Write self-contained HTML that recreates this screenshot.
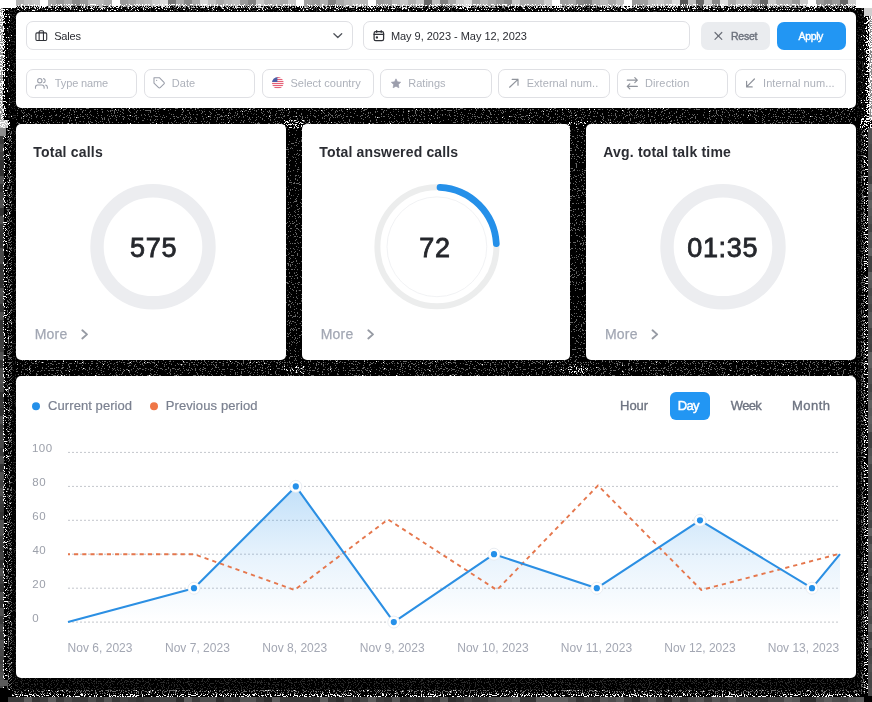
<!DOCTYPE html>
<html><head><meta charset="utf-8"><title>Dashboard</title>
<style>
html,body{margin:0;padding:0;}
body{width:872px;height:702px;background:#000;position:relative;overflow:hidden;font-family:"Liberation Sans",sans-serif;}
.card{position:absolute;background:#fff;border-radius:5px;}
.t{position:absolute;white-space:nowrap;line-height:1;}
#txt{position:absolute;left:0;top:0;width:872px;height:702px;will-change:transform;}
.inp{position:absolute;box-sizing:border-box;border:1px solid #dfe0e4;border-radius:7px;background:#fff;}
.btn{position:absolute;border-radius:6px;}
svg{position:absolute;left:0;top:0;overflow:visible;}
</style></head><body>
<svg width="872" height="702" viewBox="0 0 872 702" shape-rendering="crispEdges"><defs><filter id="nf0" x="0" y="0" width="100%" height="100%" color-interpolation-filters="sRGB"><feTurbulence type="fractalNoise" baseFrequency="0.85" numOctaves="1" seed="2"/><feColorMatrix type="matrix" values="0 0 0 0 1.0 0 0 0 0 1.0 0 0 0 0 1.0 60 0 0 0 -32.00"/></filter><filter id="nf1" x="0" y="0" width="100%" height="100%" color-interpolation-filters="sRGB"><feTurbulence type="fractalNoise" baseFrequency="0.85" numOctaves="1" seed="3"/><feColorMatrix type="matrix" values="0 0 0 0 0 0 0 0 0 0 0 0 0 0 0 60 0 0 0 -29.50"/></filter><filter id="nf2" x="0" y="0" width="100%" height="100%" color-interpolation-filters="sRGB"><feTurbulence type="fractalNoise" baseFrequency="0.85" numOctaves="1" seed="40"/><feColorMatrix type="matrix" values="0 0 0 0 1.0 0 0 0 0 1.0 0 0 0 0 1.0 60 0 0 0 -36.33"/></filter><filter id="nf3" x="0" y="0" width="100%" height="100%" color-interpolation-filters="sRGB"><feTurbulence type="fractalNoise" baseFrequency="0.85" numOctaves="1" seed="4"/><feColorMatrix type="matrix" values="0 0 0 0 1.0 0 0 0 0 1.0 0 0 0 0 1.0 60 0 0 0 -35.77"/></filter><filter id="nf4" x="0" y="0" width="100%" height="100%" color-interpolation-filters="sRGB"><feTurbulence type="fractalNoise" baseFrequency="0.85" numOctaves="1" seed="37"/><feColorMatrix type="matrix" values="0 0 0 0 0.16 0 0 0 0 0.16 0 0 0 0 0.16 60 0 0 0 -33.92"/></filter><filter id="nf5" x="0" y="0" width="100%" height="100%" color-interpolation-filters="sRGB"><feTurbulence type="fractalNoise" baseFrequency="0.85" numOctaves="1" seed="5"/><feColorMatrix type="matrix" values="0 0 0 0 1.0 0 0 0 0 1.0 0 0 0 0 1.0 60 0 0 0 -30.33"/></filter><filter id="nf6" x="0" y="0" width="100%" height="100%" color-interpolation-filters="sRGB"><feTurbulence type="fractalNoise" baseFrequency="0.85" numOctaves="1" seed="6"/><feColorMatrix type="matrix" values="0 0 0 0 1.0 0 0 0 0 1.0 0 0 0 0 1.0 60 0 0 0 -30.33"/></filter><filter id="nf7" x="0" y="0" width="100%" height="100%" color-interpolation-filters="sRGB"><feTurbulence type="fractalNoise" baseFrequency="0.85" numOctaves="1" seed="7"/><feColorMatrix type="matrix" values="0 0 0 0 1.0 0 0 0 0 1.0 0 0 0 0 1.0 60 0 0 0 -37.00"/></filter><filter id="nf8" x="0" y="0" width="100%" height="100%" color-interpolation-filters="sRGB"><feTurbulence type="fractalNoise" baseFrequency="0.85" numOctaves="1" seed="8"/><feColorMatrix type="matrix" values="0 0 0 0 0.16 0 0 0 0 0.16 0 0 0 0 0.16 60 0 0 0 -33.92"/></filter><filter id="nf9" x="0" y="0" width="100%" height="100%" color-interpolation-filters="sRGB"><feTurbulence type="fractalNoise" baseFrequency="0.85" numOctaves="1" seed="41"/><feColorMatrix type="matrix" values="0 0 0 0 1.0 0 0 0 0 1.0 0 0 0 0 1.0 60 0 0 0 -42.00"/></filter><filter id="nf10" x="0" y="0" width="100%" height="100%" color-interpolation-filters="sRGB"><feTurbulence type="fractalNoise" baseFrequency="0.85" numOctaves="1" seed="9"/><feColorMatrix type="matrix" values="0 0 0 0 1.0 0 0 0 0 1.0 0 0 0 0 1.0 60 0 0 0 -32.00"/></filter><filter id="nf11" x="0" y="0" width="100%" height="100%" color-interpolation-filters="sRGB"><feTurbulence type="fractalNoise" baseFrequency="0.85" numOctaves="1" seed="10"/><feColorMatrix type="matrix" values="0 0 0 0 1.0 0 0 0 0 1.0 0 0 0 0 1.0 60 0 0 0 -35.08"/></filter><filter id="nf12" x="0" y="0" width="100%" height="100%" color-interpolation-filters="sRGB"><feTurbulence type="fractalNoise" baseFrequency="0.85" numOctaves="1" seed="11"/><feColorMatrix type="matrix" values="0 0 0 0 0.4 0 0 0 0 0.4 0 0 0 0 0.4 60 0 0 0 -32.83"/></filter><filter id="nf13" x="0" y="0" width="100%" height="100%" color-interpolation-filters="sRGB"><feTurbulence type="fractalNoise" baseFrequency="0.85" numOctaves="1" seed="35"/><feColorMatrix type="matrix" values="0 0 0 0 1.0 0 0 0 0 1.0 0 0 0 0 1.0 60 0 0 0 -41.40"/></filter><filter id="nf14" x="0" y="0" width="100%" height="100%" color-interpolation-filters="sRGB"><feTurbulence type="fractalNoise" baseFrequency="0.85" numOctaves="1" seed="12"/><feColorMatrix type="matrix" values="0 0 0 0 0.16 0 0 0 0 0.16 0 0 0 0 0.16 60 0 0 0 -35.08"/></filter><filter id="nf15" x="0" y="0" width="100%" height="100%" color-interpolation-filters="sRGB"><feTurbulence type="fractalNoise" baseFrequency="0.85" numOctaves="1" seed="13"/><feColorMatrix type="matrix" values="0 0 0 0 0.16 0 0 0 0 0.16 0 0 0 0 0.16 60 0 0 0 -33.92"/></filter><filter id="nf16" x="0" y="0" width="100%" height="100%" color-interpolation-filters="sRGB"><feTurbulence type="fractalNoise" baseFrequency="0.85" numOctaves="1" seed="38"/><feColorMatrix type="matrix" values="0 0 0 0 1.0 0 0 0 0 1.0 0 0 0 0 1.0 60 0 0 0 -42.00"/></filter><filter id="nf17" x="0" y="0" width="100%" height="100%" color-interpolation-filters="sRGB"><feTurbulence type="fractalNoise" baseFrequency="0.85" numOctaves="1" seed="42"/><feColorMatrix type="matrix" values="0 0 0 0 1.0 0 0 0 0 1.0 0 0 0 0 1.0 60 0 0 0 -36.33"/></filter><filter id="nf18" x="0" y="0" width="100%" height="100%" color-interpolation-filters="sRGB"><feTurbulence type="fractalNoise" baseFrequency="0.85" numOctaves="1" seed="14"/><feColorMatrix type="matrix" values="0 0 0 0 1.0 0 0 0 0 1.0 0 0 0 0 1.0 60 0 0 0 -30.33"/></filter><filter id="nf19" x="0" y="0" width="100%" height="100%" color-interpolation-filters="sRGB"><feTurbulence type="fractalNoise" baseFrequency="0.85" numOctaves="1" seed="15"/><feColorMatrix type="matrix" values="0 0 0 0 1.0 0 0 0 0 1.0 0 0 0 0 1.0 60 0 0 0 -30.33"/></filter><filter id="nf20" x="0" y="0" width="100%" height="100%" color-interpolation-filters="sRGB"><feTurbulence type="fractalNoise" baseFrequency="0.85" numOctaves="1" seed="16"/><feColorMatrix type="matrix" values="0 0 0 0 1.0 0 0 0 0 1.0 0 0 0 0 1.0 60 0 0 0 -32.00"/></filter><filter id="nf21" x="0" y="0" width="100%" height="100%" color-interpolation-filters="sRGB"><feTurbulence type="fractalNoise" baseFrequency="0.85" numOctaves="1" seed="17"/><feColorMatrix type="matrix" values="0 0 0 0 0.16 0 0 0 0 0.16 0 0 0 0 0.16 60 0 0 0 -33.92"/></filter><filter id="nf22" x="0" y="0" width="100%" height="100%" color-interpolation-filters="sRGB"><feTurbulence type="fractalNoise" baseFrequency="0.85" numOctaves="1" seed="36"/><feColorMatrix type="matrix" values="0 0 0 0 0.42 0 0 0 0 0.42 0 0 0 0 0.42 60 0 0 0 -32.83"/></filter><filter id="nf23" x="0" y="0" width="100%" height="100%" color-interpolation-filters="sRGB"><feTurbulence type="fractalNoise" baseFrequency="0.85" numOctaves="1" seed="18"/><feColorMatrix type="matrix" values="0 0 0 0 1.0 0 0 0 0 1.0 0 0 0 0 1.0 60 0 0 0 -33.92"/></filter><filter id="nf24" x="0" y="0" width="100%" height="100%" color-interpolation-filters="sRGB"><feTurbulence type="fractalNoise" baseFrequency="0.85" numOctaves="1" seed="19"/><feColorMatrix type="matrix" values="0 0 0 0 1.0 0 0 0 0 1.0 0 0 0 0 1.0 60 0 0 0 -32.83"/></filter><filter id="nf25" x="0" y="0" width="100%" height="100%" color-interpolation-filters="sRGB"><feTurbulence type="fractalNoise" baseFrequency="0.85" numOctaves="1" seed="20"/><feColorMatrix type="matrix" values="0 0 0 0 0.42 0 0 0 0 0.42 0 0 0 0 0.42 60 0 0 0 -32.83"/></filter><filter id="nf26" x="0" y="0" width="100%" height="100%" color-interpolation-filters="sRGB"><feTurbulence type="fractalNoise" baseFrequency="0.85" numOctaves="1" seed="34"/><feColorMatrix type="matrix" values="0 0 0 0 1.0 0 0 0 0 1.0 0 0 0 0 1.0 60 0 0 0 -41.40"/></filter><filter id="nf27" x="0" y="0" width="100%" height="100%" color-interpolation-filters="sRGB"><feTurbulence type="fractalNoise" baseFrequency="0.85" numOctaves="1" seed="21"/><feColorMatrix type="matrix" values="0 0 0 0 0.16 0 0 0 0 0.16 0 0 0 0 0.16 60 0 0 0 -33.92"/></filter><filter id="nf28" x="0" y="0" width="100%" height="100%" color-interpolation-filters="sRGB"><feTurbulence type="fractalNoise" baseFrequency="0.85" numOctaves="1" seed="22"/><feColorMatrix type="matrix" values="0 0 0 0 0.4 0 0 0 0 0.4 0 0 0 0 0.4 60 0 0 0 -36.67"/></filter><filter id="nf29" x="0" y="0" width="100%" height="100%" color-interpolation-filters="sRGB"><feTurbulence type="fractalNoise" baseFrequency="0.85" numOctaves="1" seed="23"/><feColorMatrix type="matrix" values="0 0 0 0 0.4 0 0 0 0 0.4 0 0 0 0 0.4 60 0 0 0 -36.67"/></filter><filter id="nf30" x="0" y="0" width="100%" height="100%" color-interpolation-filters="sRGB"><feTurbulence type="fractalNoise" baseFrequency="0.85" numOctaves="1" seed="24"/><feColorMatrix type="matrix" values="0 0 0 0 0.4 0 0 0 0 0.4 0 0 0 0 0.4 60 0 0 0 -37.33"/></filter><filter id="nf31" x="0" y="0" width="100%" height="100%" color-interpolation-filters="sRGB"><feTurbulence type="fractalNoise" baseFrequency="0.85" numOctaves="1" seed="25"/><feColorMatrix type="matrix" values="0 0 0 0 0.4 0 0 0 0 0.4 0 0 0 0 0.4 60 0 0 0 -37.33"/></filter><filter id="nf32" x="0" y="0" width="100%" height="100%" color-interpolation-filters="sRGB"><feTurbulence type="fractalNoise" baseFrequency="0.85" numOctaves="1" seed="32"/><feColorMatrix type="matrix" values="0 0 0 0 1.0 0 0 0 0 1.0 0 0 0 0 1.0 60 0 0 0 -44.40"/></filter><filter id="nf33" x="0" y="0" width="100%" height="100%" color-interpolation-filters="sRGB"><feTurbulence type="fractalNoise" baseFrequency="0.85" numOctaves="1" seed="33"/><feColorMatrix type="matrix" values="0 0 0 0 1.0 0 0 0 0 1.0 0 0 0 0 1.0 60 0 0 0 -44.40"/></filter><filter id="nf34" x="0" y="0" width="100%" height="100%" color-interpolation-filters="sRGB"><feTurbulence type="fractalNoise" baseFrequency="0.85" numOctaves="1" seed="26"/><feColorMatrix type="matrix" values="0 0 0 0 1.0 0 0 0 0 1.0 0 0 0 0 1.0 60 0 0 0 -33.92"/></filter><filter id="nf35" x="0" y="0" width="100%" height="100%" color-interpolation-filters="sRGB"><feTurbulence type="fractalNoise" baseFrequency="0.85" numOctaves="1" seed="27"/><feColorMatrix type="matrix" values="0 0 0 0 1.0 0 0 0 0 1.0 0 0 0 0 1.0 60 0 0 0 -37.33"/></filter><filter id="nf36" x="0" y="0" width="100%" height="100%" color-interpolation-filters="sRGB"><feTurbulence type="fractalNoise" baseFrequency="0.85" numOctaves="1" seed="28"/><feColorMatrix type="matrix" values="0 0 0 0 1.0 0 0 0 0 1.0 0 0 0 0 1.0 60 0 0 0 -38.00"/></filter><filter id="nf37" x="0" y="0" width="100%" height="100%" color-interpolation-filters="sRGB"><feTurbulence type="fractalNoise" baseFrequency="0.85" numOctaves="1" seed="29"/><feColorMatrix type="matrix" values="0 0 0 0 1.0 0 0 0 0 1.0 0 0 0 0 1.0 60 0 0 0 -35.08"/></filter></defs>
<rect x="0" y="0" width="16" height="8" fill="#fff"/>
<rect x="856" y="0" width="16" height="8" fill="#fff"/>
<rect x="16" y="0" width="8" height="8" fill="#b0b0b0"/>
<rect x="24" y="0" width="8" height="8" fill="#c0c0c0"/>
<rect x="32" y="0" width="8" height="8" fill="#c8c8c8"/>
<rect x="40" y="0" width="8" height="8" fill="#ffffff"/>
<rect x="48" y="0" width="8" height="8" fill="#a8a8a8"/>
<rect x="56" y="0" width="8" height="8" fill="#999999"/>
<rect x="64" y="0" width="8" height="8" fill="#aaaaaa"/>
<rect x="72" y="0" width="8" height="8" fill="#8a8a8a"/>
<rect x="80" y="0" width="8" height="8" fill="#999999"/>
<rect x="88" y="0" width="8" height="8" fill="#b8b8b8"/>
<rect x="96" y="0" width="8" height="8" fill="#b8b8b8"/>
<rect x="104" y="0" width="8" height="8" fill="#aaaaaa"/>
<rect x="112" y="0" width="8" height="8" fill="#ffffff"/>
<rect x="120" y="0" width="8" height="8" fill="#999999"/>
<rect x="128" y="0" width="8" height="8" fill="#a5a5a5"/>
<rect x="136" y="0" width="8" height="8" fill="#b5b5b5"/>
<rect x="144" y="0" width="8" height="8" fill="#bbbbbb"/>
<rect x="152" y="0" width="8" height="8" fill="#cccccc"/>
<rect x="160" y="0" width="8" height="8" fill="#dddddd"/>
<rect x="168" y="0" width="8" height="8" fill="#777777"/>
<rect x="176" y="0" width="8" height="8" fill="#aaaaaa"/>
<rect x="184" y="0" width="8" height="8" fill="#888888"/>
<rect x="192" y="0" width="8" height="8" fill="#aaaaaa"/>
<rect x="200" y="0" width="8" height="8" fill="#d8d8d8"/>
<rect x="208" y="0" width="8" height="8" fill="#c0c0c0"/>
<rect x="216" y="0" width="8" height="8" fill="#a8a8a8"/>
<rect x="224" y="0" width="8" height="8" fill="#b8b8b8"/>
<rect x="232" y="0" width="8" height="8" fill="#c0c0c0"/>
<rect x="240" y="0" width="8" height="8" fill="#999999"/>
<rect x="248" y="0" width="8" height="8" fill="#808080"/>
<rect x="256" y="0" width="8" height="8" fill="#c8c8c8"/>
<rect x="264" y="0" width="8" height="8" fill="#b0b0b0"/>
<rect x="272" y="0" width="8" height="8" fill="#b8b8b8"/>
<rect x="280" y="0" width="8" height="8" fill="#a8a8a8"/>
<rect x="288" y="0" width="8" height="8" fill="#c8c8c8"/>
<rect x="296" y="0" width="8" height="8" fill="#ffffff"/>
<rect x="304" y="0" width="8" height="8" fill="#a0a0a0"/>
<rect x="312" y="0" width="8" height="8" fill="#999999"/>
<rect x="320" y="0" width="8" height="8" fill="#b0b0b0"/>
<rect x="328" y="0" width="8" height="8" fill="#808080"/>
<rect x="336" y="0" width="8" height="8" fill="#a8a8a8"/>
<rect x="344" y="0" width="8" height="8" fill="#b8b8b8"/>
<rect x="352" y="0" width="8" height="8" fill="#c0c0c0"/>
<rect x="360" y="0" width="8" height="8" fill="#b8b8b8"/>
<rect x="368" y="0" width="8" height="8" fill="#ffffff"/>
<rect x="376" y="0" width="8" height="8" fill="#999999"/>
<rect x="384" y="0" width="8" height="8" fill="#a0a0a0"/>
<rect x="392" y="0" width="8" height="8" fill="#b8b8b8"/>
<rect x="400" y="0" width="8" height="8" fill="#c8c8c8"/>
<rect x="408" y="0" width="8" height="8" fill="#b0b0b0"/>
<rect x="416" y="0" width="8" height="8" fill="#c8c8c8"/>
<rect x="424" y="0" width="8" height="8" fill="#666666"/>
<rect x="432" y="0" width="8" height="8" fill="#c0c0c0"/>
<rect x="440" y="0" width="8" height="8" fill="#808080"/>
<rect x="448" y="0" width="8" height="8" fill="#aaaaaa"/>
<rect x="456" y="0" width="8" height="8" fill="#d0d0d0"/>
<rect x="464" y="0" width="8" height="8" fill="#dddddd"/>
<rect x="472" y="0" width="8" height="8" fill="#a0a0a0"/>
<rect x="480" y="0" width="8" height="8" fill="#b8b8b8"/>
<rect x="488" y="0" width="8" height="8" fill="#aaaaaa"/>
<rect x="496" y="0" width="8" height="8" fill="#999999"/>
<rect x="504" y="0" width="8" height="8" fill="#888888"/>
<rect x="512" y="0" width="8" height="8" fill="#cccccc"/>
<rect x="520" y="0" width="8" height="8" fill="#aaaaaa"/>
<rect x="528" y="0" width="8" height="8" fill="#aaaaaa"/>
<rect x="536" y="0" width="8" height="8" fill="#b0b0b0"/>
<rect x="544" y="0" width="8" height="8" fill="#cccccc"/>
<rect x="552" y="0" width="8" height="8" fill="#ffffff"/>
<rect x="560" y="0" width="8" height="8" fill="#a0a0a0"/>
<rect x="568" y="0" width="8" height="8" fill="#aaaaaa"/>
<rect x="576" y="0" width="8" height="8" fill="#888888"/>
<rect x="584" y="0" width="8" height="8" fill="#808080"/>
<rect x="592" y="0" width="8" height="8" fill="#aaaaaa"/>
<rect x="600" y="0" width="8" height="8" fill="#bbbbbb"/>
<rect x="608" y="0" width="8" height="8" fill="#a8a8a8"/>
<rect x="616" y="0" width="8" height="8" fill="#c0c0c0"/>
<rect x="624" y="0" width="8" height="8" fill="#ffffff"/>
<rect x="632" y="0" width="8" height="8" fill="#999999"/>
<rect x="640" y="0" width="8" height="8" fill="#a0a0a0"/>
<rect x="648" y="0" width="8" height="8" fill="#c0c0c0"/>
<rect x="656" y="0" width="8" height="8" fill="#c8c8c8"/>
<rect x="664" y="0" width="8" height="8" fill="#bbbbbb"/>
<rect x="672" y="0" width="8" height="8" fill="#dddddd"/>
<rect x="680" y="0" width="8" height="8" fill="#555555"/>
<rect x="688" y="0" width="8" height="8" fill="#c0c0c0"/>
<rect x="696" y="0" width="8" height="8" fill="#666666"/>
<rect x="704" y="0" width="8" height="8" fill="#cccccc"/>
<rect x="712" y="0" width="8" height="8" fill="#888888"/>
<rect x="720" y="0" width="8" height="8" fill="#dddddd"/>
<rect x="728" y="0" width="8" height="8" fill="#aaaaaa"/>
<rect x="736" y="0" width="8" height="8" fill="#c0c0c0"/>
<rect x="744" y="0" width="8" height="8" fill="#c0c0c0"/>
<rect x="752" y="0" width="8" height="8" fill="#999999"/>
<rect x="760" y="0" width="8" height="8" fill="#666666"/>
<rect x="768" y="0" width="8" height="8" fill="#cccccc"/>
<rect x="776" y="0" width="8" height="8" fill="#b0b0b0"/>
<rect x="784" y="0" width="8" height="8" fill="#b0b0b0"/>
<rect x="792" y="0" width="8" height="8" fill="#999999"/>
<rect x="800" y="0" width="8" height="8" fill="#cccccc"/>
<rect x="808" y="0" width="8" height="8" fill="#ffffff"/>
<rect x="816" y="0" width="8" height="8" fill="#999999"/>
<rect x="824" y="0" width="8" height="8" fill="#888888"/>
<rect x="832" y="0" width="8" height="8" fill="#999999"/>
<rect x="840" y="0" width="8" height="8" fill="#666666"/>
<rect x="848" y="0" width="8" height="8" fill="#cccccc"/>
<rect x="16" y="4" width="840" height="2" filter="url(#nf0)"/>
<rect x="16" y="6" width="840" height="2" filter="url(#nf1)"/>
<rect x="16" y="6" width="840" height="2" filter="url(#nf2)"/>
<rect x="16" y="8" width="840" height="3" filter="url(#nf3)"/>
<rect x="16" y="8" width="840" height="4" filter="url(#nf4)"/>
<rect x="0" y="8" width="3" height="112" fill="#909090"/>
<rect x="0" y="8" width="3" height="112" filter="url(#nf5)"/>
<rect x="3" y="8" width="2" height="112" filter="url(#nf6)"/>
<rect x="5" y="8" width="3" height="112" filter="url(#nf7)"/>
<rect x="8" y="8" width="8" height="112" filter="url(#nf8)"/>
<rect x="8" y="8" width="4" height="112" filter="url(#nf9)"/>
<rect x="0" y="120" width="8" height="8" fill="#c4c4c4"/>
<rect x="0" y="120" width="10" height="8" filter="url(#nf10)"/>
<rect x="0" y="128" width="4" height="8" fill="#404040"/>
<rect x="0" y="136" width="4" height="8" fill="#383838"/>
<rect x="0" y="144" width="4" height="8" fill="#484848"/>
<rect x="0" y="152" width="4" height="8" fill="#3c3c3c"/>
<rect x="0" y="160" width="4" height="8" fill="#303030"/>
<rect x="0" y="168" width="4" height="8" fill="#303030"/>
<rect x="0" y="176" width="4" height="8" fill="#505050"/>
<rect x="0" y="184" width="4" height="8" fill="#303030"/>
<rect x="0" y="192" width="4" height="8" fill="#404040"/>
<rect x="0" y="200" width="4" height="8" fill="#505050"/>
<rect x="0" y="208" width="4" height="8" fill="#303030"/>
<rect x="0" y="216" width="4" height="8" fill="#505050"/>
<rect x="0" y="224" width="4" height="8" fill="#383838"/>
<rect x="0" y="232" width="4" height="8" fill="#303030"/>
<rect x="0" y="240" width="4" height="8" fill="#303030"/>
<rect x="0" y="248" width="4" height="8" fill="#484848"/>
<rect x="0" y="256" width="4" height="8" fill="#484848"/>
<rect x="0" y="264" width="4" height="8" fill="#303030"/>
<rect x="0" y="272" width="4" height="8" fill="#383838"/>
<rect x="0" y="280" width="4" height="8" fill="#303030"/>
<rect x="0" y="288" width="4" height="8" fill="#505050"/>
<rect x="0" y="296" width="4" height="8" fill="#484848"/>
<rect x="0" y="304" width="4" height="8" fill="#303030"/>
<rect x="0" y="312" width="4" height="8" fill="#505050"/>
<rect x="0" y="320" width="4" height="8" fill="#303030"/>
<rect x="0" y="328" width="4" height="8" fill="#383838"/>
<rect x="0" y="336" width="4" height="8" fill="#3c3c3c"/>
<rect x="0" y="344" width="4" height="8" fill="#3c3c3c"/>
<rect x="0" y="352" width="4" height="8" fill="#505050"/>
<rect x="0" y="360" width="4" height="8" fill="#303030"/>
<rect x="0" y="368" width="4" height="8" fill="#505050"/>
<rect x="0" y="376" width="4" height="8" fill="#505050"/>
<rect x="0" y="384" width="4" height="8" fill="#484848"/>
<rect x="0" y="392" width="4" height="8" fill="#303030"/>
<rect x="0" y="400" width="4" height="8" fill="#383838"/>
<rect x="0" y="408" width="4" height="8" fill="#303030"/>
<rect x="0" y="416" width="4" height="8" fill="#505050"/>
<rect x="0" y="424" width="4" height="8" fill="#383838"/>
<rect x="0" y="432" width="4" height="8" fill="#404040"/>
<rect x="0" y="440" width="4" height="8" fill="#484848"/>
<rect x="0" y="448" width="4" height="8" fill="#383838"/>
<rect x="0" y="456" width="4" height="8" fill="#505050"/>
<rect x="0" y="464" width="4" height="8" fill="#303030"/>
<rect x="0" y="472" width="4" height="8" fill="#505050"/>
<rect x="0" y="480" width="4" height="8" fill="#404040"/>
<rect x="0" y="488" width="4" height="8" fill="#505050"/>
<rect x="0" y="496" width="4" height="8" fill="#3c3c3c"/>
<rect x="0" y="504" width="4" height="8" fill="#383838"/>
<rect x="0" y="512" width="4" height="8" fill="#303030"/>
<rect x="0" y="520" width="4" height="8" fill="#505050"/>
<rect x="0" y="528" width="4" height="8" fill="#505050"/>
<rect x="0" y="536" width="4" height="8" fill="#3c3c3c"/>
<rect x="0" y="544" width="4" height="8" fill="#383838"/>
<rect x="0" y="552" width="4" height="8" fill="#404040"/>
<rect x="0" y="560" width="4" height="8" fill="#303030"/>
<rect x="0" y="568" width="4" height="8" fill="#505050"/>
<rect x="0" y="576" width="4" height="8" fill="#3c3c3c"/>
<rect x="0" y="584" width="4" height="8" fill="#303030"/>
<rect x="0" y="592" width="4" height="8" fill="#505050"/>
<rect x="0" y="600" width="4" height="8" fill="#303030"/>
<rect x="0" y="608" width="4" height="8" fill="#505050"/>
<rect x="0" y="616" width="4" height="8" fill="#383838"/>
<rect x="0" y="624" width="4" height="8" fill="#484848"/>
<rect x="0" y="632" width="4" height="8" fill="#3c3c3c"/>
<rect x="0" y="640" width="4" height="8" fill="#505050"/>
<rect x="0" y="648" width="4" height="8" fill="#484848"/>
<rect x="0" y="656" width="4" height="8" fill="#404040"/>
<rect x="0" y="664" width="4" height="8" fill="#484848"/>
<rect x="0" y="672" width="4" height="8" fill="#505050"/>
<rect x="0" y="680" width="4" height="8" fill="#484848"/>
<rect x="3" y="136" width="4" height="554" filter="url(#nf11)"/>
<rect x="0" y="128" width="6" height="8" fill="#8c8c8c"/>
<rect x="7" y="128" width="5" height="562" filter="url(#nf12)"/>
<rect x="7" y="128" width="5" height="562" filter="url(#nf13)"/>
<rect x="12" y="128" width="4" height="562" filter="url(#nf14)"/>
<rect x="0" y="680" width="8" height="6" fill="#5a5a5a"/>
<rect x="857" y="8" width="8" height="112" filter="url(#nf15)"/>
<rect x="860" y="8" width="4" height="112" filter="url(#nf16)"/>
<rect x="864" y="8" width="2" height="112" filter="url(#nf17)"/>
<rect x="866" y="8" width="3" height="112" filter="url(#nf18)"/>
<rect x="869" y="8" width="3" height="112" fill="#888888"/>
<rect x="869" y="8" width="3" height="112" filter="url(#nf19)"/>
<rect x="864" y="8" width="8" height="8" fill="#cfcfcf"/>
<rect x="860" y="118" width="12" height="10" filter="url(#nf20)"/>
<rect x="868" y="128" width="4" height="8" fill="#505050"/>
<rect x="868" y="136" width="4" height="8" fill="#505050"/>
<rect x="868" y="144" width="4" height="8" fill="#484848"/>
<rect x="868" y="152" width="4" height="8" fill="#484848"/>
<rect x="868" y="160" width="4" height="8" fill="#444444"/>
<rect x="868" y="168" width="4" height="8" fill="#484848"/>
<rect x="868" y="176" width="4" height="8" fill="#404040"/>
<rect x="868" y="184" width="4" height="8" fill="#606060"/>
<rect x="868" y="192" width="4" height="8" fill="#505050"/>
<rect x="868" y="200" width="4" height="8" fill="#606060"/>
<rect x="868" y="208" width="4" height="8" fill="#585858"/>
<rect x="868" y="216" width="4" height="8" fill="#505050"/>
<rect x="868" y="224" width="4" height="8" fill="#444444"/>
<rect x="868" y="232" width="4" height="8" fill="#585858"/>
<rect x="868" y="240" width="4" height="8" fill="#505050"/>
<rect x="868" y="248" width="4" height="8" fill="#606060"/>
<rect x="868" y="256" width="4" height="8" fill="#404040"/>
<rect x="868" y="264" width="4" height="8" fill="#404040"/>
<rect x="868" y="272" width="4" height="8" fill="#606060"/>
<rect x="868" y="280" width="4" height="8" fill="#585858"/>
<rect x="868" y="288" width="4" height="8" fill="#484848"/>
<rect x="868" y="296" width="4" height="8" fill="#505050"/>
<rect x="868" y="304" width="4" height="8" fill="#484848"/>
<rect x="868" y="312" width="4" height="8" fill="#585858"/>
<rect x="868" y="320" width="4" height="8" fill="#585858"/>
<rect x="868" y="328" width="4" height="8" fill="#404040"/>
<rect x="868" y="336" width="4" height="8" fill="#444444"/>
<rect x="868" y="344" width="4" height="8" fill="#404040"/>
<rect x="868" y="352" width="4" height="8" fill="#606060"/>
<rect x="868" y="360" width="4" height="8" fill="#606060"/>
<rect x="868" y="368" width="4" height="8" fill="#505050"/>
<rect x="868" y="376" width="4" height="8" fill="#505050"/>
<rect x="868" y="384" width="4" height="8" fill="#444444"/>
<rect x="868" y="392" width="4" height="8" fill="#505050"/>
<rect x="868" y="400" width="4" height="8" fill="#606060"/>
<rect x="868" y="408" width="4" height="8" fill="#585858"/>
<rect x="868" y="416" width="4" height="8" fill="#606060"/>
<rect x="868" y="424" width="4" height="8" fill="#585858"/>
<rect x="868" y="432" width="4" height="8" fill="#404040"/>
<rect x="868" y="440" width="4" height="8" fill="#404040"/>
<rect x="868" y="448" width="4" height="8" fill="#505050"/>
<rect x="868" y="456" width="4" height="8" fill="#585858"/>
<rect x="868" y="464" width="4" height="8" fill="#444444"/>
<rect x="868" y="472" width="4" height="8" fill="#444444"/>
<rect x="868" y="480" width="4" height="8" fill="#404040"/>
<rect x="868" y="488" width="4" height="8" fill="#404040"/>
<rect x="868" y="496" width="4" height="8" fill="#444444"/>
<rect x="868" y="504" width="4" height="8" fill="#444444"/>
<rect x="868" y="512" width="4" height="8" fill="#505050"/>
<rect x="868" y="520" width="4" height="8" fill="#444444"/>
<rect x="868" y="528" width="4" height="8" fill="#606060"/>
<rect x="868" y="536" width="4" height="8" fill="#444444"/>
<rect x="868" y="544" width="4" height="8" fill="#585858"/>
<rect x="868" y="552" width="4" height="8" fill="#505050"/>
<rect x="868" y="560" width="4" height="8" fill="#444444"/>
<rect x="868" y="568" width="4" height="8" fill="#585858"/>
<rect x="868" y="576" width="4" height="8" fill="#444444"/>
<rect x="868" y="584" width="4" height="8" fill="#505050"/>
<rect x="868" y="592" width="4" height="8" fill="#404040"/>
<rect x="868" y="600" width="4" height="8" fill="#585858"/>
<rect x="868" y="608" width="4" height="8" fill="#505050"/>
<rect x="868" y="616" width="4" height="8" fill="#484848"/>
<rect x="868" y="624" width="4" height="8" fill="#606060"/>
<rect x="868" y="632" width="4" height="8" fill="#404040"/>
<rect x="868" y="640" width="4" height="8" fill="#585858"/>
<rect x="868" y="648" width="4" height="8" fill="#404040"/>
<rect x="868" y="656" width="4" height="8" fill="#484848"/>
<rect x="868" y="664" width="4" height="8" fill="#505050"/>
<rect x="868" y="672" width="4" height="8" fill="#484848"/>
<rect x="868" y="680" width="4" height="8" fill="#444444"/>
<rect x="868" y="688" width="4" height="8" fill="#484848"/>
<rect x="857" y="128" width="5" height="566" filter="url(#nf21)"/>
<rect x="861" y="128" width="4" height="566" filter="url(#nf22)"/>
<rect x="864" y="128" width="4" height="566" filter="url(#nf23)"/>
<rect x="8" y="697" width="8" height="5" fill="#383838"/>
<rect x="16" y="697" width="8" height="5" fill="#383838"/>
<rect x="24" y="697" width="8" height="5" fill="#5c5c5c"/>
<rect x="32" y="697" width="8" height="5" fill="#343434"/>
<rect x="40" y="697" width="8" height="5" fill="#3c3c3c"/>
<rect x="48" y="697" width="8" height="5" fill="#5c5c5c"/>
<rect x="56" y="697" width="8" height="5" fill="#383838"/>
<rect x="64" y="697" width="8" height="5" fill="#4c4c4c"/>
<rect x="72" y="697" width="8" height="5" fill="#3c3c3c"/>
<rect x="80" y="697" width="8" height="5" fill="#383838"/>
<rect x="88" y="697" width="8" height="5" fill="#4c4c4c"/>
<rect x="96" y="697" width="8" height="5" fill="#383838"/>
<rect x="104" y="697" width="8" height="5" fill="#545454"/>
<rect x="112" y="697" width="8" height="5" fill="#383838"/>
<rect x="120" y="697" width="8" height="5" fill="#444444"/>
<rect x="128" y="697" width="8" height="5" fill="#3c3c3c"/>
<rect x="136" y="697" width="8" height="5" fill="#343434"/>
<rect x="144" y="697" width="8" height="5" fill="#3c3c3c"/>
<rect x="152" y="697" width="8" height="5" fill="#3c3c3c"/>
<rect x="160" y="697" width="8" height="5" fill="#444444"/>
<rect x="168" y="697" width="8" height="5" fill="#444444"/>
<rect x="176" y="697" width="8" height="5" fill="#2c2c2c"/>
<rect x="184" y="697" width="8" height="5" fill="#5c5c5c"/>
<rect x="192" y="697" width="8" height="5" fill="#3c3c3c"/>
<rect x="200" y="697" width="8" height="5" fill="#4c4c4c"/>
<rect x="208" y="697" width="8" height="5" fill="#4c4c4c"/>
<rect x="216" y="697" width="8" height="5" fill="#2c2c2c"/>
<rect x="224" y="697" width="8" height="5" fill="#3c3c3c"/>
<rect x="232" y="697" width="8" height="5" fill="#383838"/>
<rect x="240" y="697" width="8" height="5" fill="#545454"/>
<rect x="248" y="697" width="8" height="5" fill="#545454"/>
<rect x="256" y="697" width="8" height="5" fill="#3c3c3c"/>
<rect x="264" y="697" width="8" height="5" fill="#2c2c2c"/>
<rect x="272" y="697" width="8" height="5" fill="#5c5c5c"/>
<rect x="280" y="697" width="8" height="5" fill="#383838"/>
<rect x="288" y="697" width="8" height="5" fill="#383838"/>
<rect x="296" y="697" width="8" height="5" fill="#383838"/>
<rect x="304" y="697" width="8" height="5" fill="#383838"/>
<rect x="312" y="697" width="8" height="5" fill="#343434"/>
<rect x="320" y="697" width="8" height="5" fill="#5c5c5c"/>
<rect x="328" y="697" width="8" height="5" fill="#383838"/>
<rect x="336" y="697" width="8" height="5" fill="#2c2c2c"/>
<rect x="344" y="697" width="8" height="5" fill="#444444"/>
<rect x="352" y="697" width="8" height="5" fill="#343434"/>
<rect x="360" y="697" width="8" height="5" fill="#444444"/>
<rect x="368" y="697" width="8" height="5" fill="#5c5c5c"/>
<rect x="376" y="697" width="8" height="5" fill="#3c3c3c"/>
<rect x="384" y="697" width="8" height="5" fill="#343434"/>
<rect x="392" y="697" width="8" height="5" fill="#545454"/>
<rect x="400" y="697" width="8" height="5" fill="#2c2c2c"/>
<rect x="408" y="697" width="8" height="5" fill="#343434"/>
<rect x="416" y="697" width="8" height="5" fill="#2c2c2c"/>
<rect x="424" y="697" width="8" height="5" fill="#3c3c3c"/>
<rect x="432" y="697" width="8" height="5" fill="#343434"/>
<rect x="440" y="697" width="8" height="5" fill="#545454"/>
<rect x="448" y="697" width="8" height="5" fill="#2c2c2c"/>
<rect x="456" y="697" width="8" height="5" fill="#343434"/>
<rect x="464" y="697" width="8" height="5" fill="#444444"/>
<rect x="472" y="697" width="8" height="5" fill="#383838"/>
<rect x="480" y="697" width="8" height="5" fill="#3c3c3c"/>
<rect x="488" y="697" width="8" height="5" fill="#4c4c4c"/>
<rect x="496" y="697" width="8" height="5" fill="#545454"/>
<rect x="504" y="697" width="8" height="5" fill="#545454"/>
<rect x="512" y="697" width="8" height="5" fill="#5c5c5c"/>
<rect x="520" y="697" width="8" height="5" fill="#343434"/>
<rect x="528" y="697" width="8" height="5" fill="#343434"/>
<rect x="536" y="697" width="8" height="5" fill="#5c5c5c"/>
<rect x="544" y="697" width="8" height="5" fill="#5c5c5c"/>
<rect x="552" y="697" width="8" height="5" fill="#5c5c5c"/>
<rect x="560" y="697" width="8" height="5" fill="#5c5c5c"/>
<rect x="568" y="697" width="8" height="5" fill="#4c4c4c"/>
<rect x="576" y="697" width="8" height="5" fill="#343434"/>
<rect x="584" y="697" width="8" height="5" fill="#3c3c3c"/>
<rect x="592" y="697" width="8" height="5" fill="#343434"/>
<rect x="600" y="697" width="8" height="5" fill="#545454"/>
<rect x="608" y="697" width="8" height="5" fill="#4c4c4c"/>
<rect x="616" y="697" width="8" height="5" fill="#5c5c5c"/>
<rect x="624" y="697" width="8" height="5" fill="#3c3c3c"/>
<rect x="632" y="697" width="8" height="5" fill="#2c2c2c"/>
<rect x="640" y="697" width="8" height="5" fill="#444444"/>
<rect x="648" y="697" width="8" height="5" fill="#545454"/>
<rect x="656" y="697" width="8" height="5" fill="#3c3c3c"/>
<rect x="664" y="697" width="8" height="5" fill="#2c2c2c"/>
<rect x="672" y="697" width="8" height="5" fill="#4c4c4c"/>
<rect x="680" y="697" width="8" height="5" fill="#343434"/>
<rect x="688" y="697" width="8" height="5" fill="#4c4c4c"/>
<rect x="696" y="697" width="8" height="5" fill="#545454"/>
<rect x="704" y="697" width="8" height="5" fill="#3c3c3c"/>
<rect x="712" y="697" width="8" height="5" fill="#545454"/>
<rect x="720" y="697" width="8" height="5" fill="#444444"/>
<rect x="728" y="697" width="8" height="5" fill="#545454"/>
<rect x="736" y="697" width="8" height="5" fill="#444444"/>
<rect x="744" y="697" width="8" height="5" fill="#444444"/>
<rect x="752" y="697" width="8" height="5" fill="#444444"/>
<rect x="760" y="697" width="8" height="5" fill="#383838"/>
<rect x="768" y="697" width="8" height="5" fill="#444444"/>
<rect x="776" y="697" width="8" height="5" fill="#444444"/>
<rect x="784" y="697" width="8" height="5" fill="#5c5c5c"/>
<rect x="792" y="697" width="8" height="5" fill="#545454"/>
<rect x="800" y="697" width="8" height="5" fill="#2c2c2c"/>
<rect x="808" y="697" width="8" height="5" fill="#2c2c2c"/>
<rect x="816" y="697" width="8" height="5" fill="#4c4c4c"/>
<rect x="824" y="697" width="8" height="5" fill="#5c5c5c"/>
<rect x="832" y="697" width="8" height="5" fill="#4c4c4c"/>
<rect x="840" y="697" width="8" height="5" fill="#444444"/>
<rect x="848" y="697" width="8" height="5" fill="#545454"/>
<rect x="856" y="697" width="8" height="5" fill="#5c5c5c"/>
<rect x="12" y="694" width="848" height="3" filter="url(#nf24)"/>
<rect x="12" y="690" width="848" height="4" filter="url(#nf25)"/>
<rect x="12" y="690" width="848" height="4" filter="url(#nf26)"/>
<rect x="16" y="678" width="840" height="12" filter="url(#nf27)"/>
<rect x="16" y="108" width="840" height="16" filter="url(#nf28)"/>
<rect x="16" y="360" width="840" height="16" filter="url(#nf29)"/>
<rect x="286" y="124" width="16" height="236" filter="url(#nf30)"/>
<rect x="570" y="124" width="16" height="236" filter="url(#nf31)"/>
<rect x="16" y="108" width="840" height="16" filter="url(#nf32)"/>
<rect x="16" y="360" width="840" height="16" filter="url(#nf33)"/>
<rect x="284" y="120" width="20" height="8" filter="url(#nf34)"/>
<rect x="568" y="120" width="20" height="8" filter="url(#nf35)"/>
<rect x="284" y="366" width="20" height="8" filter="url(#nf36)"/>
<rect x="568" y="366" width="20" height="8" filter="url(#nf37)"/></svg>
<div class="card" style="left:16px;top:12px;width:840px;height:96px"></div>
<div class="card" style="left:16px;top:124px;width:269.7px;height:236px"></div>
<div class="card" style="left:301.7px;top:124px;width:268.6px;height:236px"></div>
<div class="card" style="left:586.3px;top:124px;width:269.7px;height:236px"></div>
<div class="card" style="left:16px;top:376px;width:840px;height:302px"></div>

<div style="position:absolute;left:16px;top:59px;width:840px;height:1px;background:#f3f4f6"></div>
<div class="inp" style="left:26px;top:21px;width:327.3px;height:29px"></div>
<div class="inp" style="left:363.3px;top:21px;width:327px;height:29px"></div>
<div class="btn" style="left:701px;top:21.5px;width:69px;height:28.3px;border-radius:7px;background:#eaecef"></div>
<div class="btn" style="left:777px;top:21.5px;width:69.4px;height:28.3px;border-radius:7px;background:#2296f3"></div>
<div class="inp" style="left:26.00px;top:69px;width:111.4px;height:29px"></div>
<div class="inp" style="left:144.10px;top:69px;width:111.4px;height:29px"></div>
<div class="inp" style="left:262.20px;top:69px;width:111.4px;height:29px"></div>
<div class="inp" style="left:380.30px;top:69px;width:111.4px;height:29px"></div>
<div class="inp" style="left:498.40px;top:69px;width:111.4px;height:29px"></div>
<div class="inp" style="left:616.50px;top:69px;width:111.4px;height:29px"></div>
<div class="inp" style="left:734.60px;top:69px;width:111.4px;height:29px"></div>
<div class="btn" style="left:670px;top:392.3px;width:40px;height:27.7px;background:#2296f3;border-radius:6px"></div>

<svg width="872" height="702" viewBox="0 0 872 702" fill="none">
<defs>
<linearGradient id="ag" x1="0" y1="486" x2="0" y2="622" gradientUnits="userSpaceOnUse">
<stop offset="0" stop-color="#2590e9" stop-opacity="0.28"/><stop offset="0.55" stop-color="#2590e9" stop-opacity="0.10"/><stop offset="1" stop-color="#2590e9" stop-opacity="0"/></linearGradient>
</defs>
<!-- donuts -->
<circle cx="153" cy="246.8" r="56" stroke="#ecedf0" stroke-width="13.4"/>
<circle cx="723" cy="246.8" r="56" stroke="#ecedf0" stroke-width="13.4"/>
<circle cx="436.9" cy="246.8" r="59.5" stroke="#eceded" stroke-width="6"/>
<circle cx="436.9" cy="246.8" r="49.9" stroke="#eeeff1" stroke-width="0.8"/>
<path d="M440.01 187.38 A59.5 59.5 0 0 1 496.32 243.69" stroke="#2590e9" stroke-width="6.7" stroke-linecap="round"/>
<!-- more chevrons -->
<g stroke="#979ba4" stroke-width="1.9" stroke-linecap="round" stroke-linejoin="round">
<path d="M82.3 330.3 L87 334.4 L82.3 338.5"/>
<path d="M368.3 330.3 L373 334.4 L368.3 338.5"/>
<path d="M652.5 330.3 L657.2 334.4 L652.5 338.5"/>
</g>
<!-- legend dots -->
<circle cx="36" cy="406.2" r="4" fill="#2590e9"/>
<circle cx="154" cy="406.2" r="4" fill="#ef7646"/>
<!-- grid -->
<g stroke="#c3c6cc" stroke-width="1" stroke-dasharray="2 2">
<line x1="68" x2="840" y1="452.4" y2="452.4"/>
<line x1="68" x2="840" y1="486.4" y2="486.4"/>
<line x1="68" x2="840" y1="520.3" y2="520.3"/>
<line x1="68" x2="840" y1="554.2" y2="554.2"/>
<line x1="68" x2="840" y1="588.2" y2="588.2"/>
<line x1="68" x2="840" y1="622.1" y2="622.1"/>
</g>
<polygon points="68,622.1 194,588.2 295.8,486.4 393.8,622.1 494,554.2 596.8,588.2 700,520.3 812,588.2 840,554.2 840,622.1 68,622.1" fill="url(#ag)"/>
<polyline points="68,554.2 194,554.2 294.6,590.0 388,519.4 496.9,590.0 598,485.5 701.3,590.0 840,553.6" stroke="#e5774d" stroke-width="1.9" stroke-dasharray="4.2 4" stroke-dashoffset="2.2" stroke-linejoin="miter"/>
<polyline points="68,622.1 194,588.2 295.8,486.4 393.8,622.1 494,554.2 596.8,588.2 700,520.3 812,588.2 840,554.2" stroke="#2b8fe3" stroke-width="2.1" stroke-linejoin="round"/>
<circle cx="194" cy="588.2" r="6" fill="#fff" stroke="#e3e8ef" stroke-width="0.8"/><circle cx="194" cy="588.2" r="3.1" fill="#2590e9"/>
<circle cx="295.8" cy="486.4" r="6" fill="#fff" stroke="#e3e8ef" stroke-width="0.8"/><circle cx="295.8" cy="486.4" r="3.1" fill="#2590e9"/>
<circle cx="393.8" cy="622.1" r="6" fill="#fff" stroke="#e3e8ef" stroke-width="0.8"/><circle cx="393.8" cy="622.1" r="3.1" fill="#2590e9"/>
<circle cx="494" cy="554.2" r="6" fill="#fff" stroke="#e3e8ef" stroke-width="0.8"/><circle cx="494" cy="554.2" r="3.1" fill="#2590e9"/>
<circle cx="596.8" cy="588.2" r="6" fill="#fff" stroke="#e3e8ef" stroke-width="0.8"/><circle cx="596.8" cy="588.2" r="3.1" fill="#2590e9"/>
<circle cx="700" cy="520.3" r="6" fill="#fff" stroke="#e3e8ef" stroke-width="0.8"/><circle cx="700" cy="520.3" r="3.1" fill="#2590e9"/>
<circle cx="812" cy="588.2" r="6" fill="#fff" stroke="#e3e8ef" stroke-width="0.8"/><circle cx="812" cy="588.2" r="3.1" fill="#2590e9"/>

<!-- briefcase -->
<g transform="translate(34.82 29.1) scale(0.54)" stroke="#2f3137" stroke-width="2" stroke-linecap="round" stroke-linejoin="round">
<rect x="2" y="7" width="20" height="14" rx="2" ry="2"/><path d="M16 21V5a2 2 0 0 0-2-2h-4a2 2 0 0 0-2 2v16"/></g>
<!-- chevron down -->
<path d="M333.9 33.7 L337.8 37.5 L341.7 33.7" stroke="#50545b" stroke-width="1.3" stroke-linecap="round" stroke-linejoin="round"/>
<!-- calendar -->
<g stroke="#2f3137" stroke-width="1.25" stroke-linecap="round" stroke-linejoin="round">
<rect x="374.1" y="31.6" width="9.5" height="9.1" rx="1.6"/><path d="M374.1 34.4H383.6M376.7 30.5V32.3M381.2 30.5V32.3"/>
<circle cx="376.9" cy="37.4" r="0.55" fill="#2f3137"/></g>
<!-- x -->
<path d="M715 32.5L721.8 39.3M721.8 32.5L715 39.3" stroke="#6b6f78" stroke-width="1.2" stroke-linecap="round"/>
<!-- users -->
<g transform="translate(34.94 76.94) scale(0.54)" stroke="#9b9faa" stroke-width="2" stroke-linecap="round" stroke-linejoin="round">
<path d="M17 21v-2a4 4 0 0 0-4-4H5a4 4 0 0 0-4 4v2"/><circle cx="9" cy="7" r="4"/><path d="M23 21v-2a4 4 0 0 0-3-3.87"/><path d="M16 3.13a4 4 0 0 1 0 7.75"/></g>
<!-- tag -->
<g transform="translate(152.9 76.6) scale(0.54)" stroke="#9b9faa" stroke-width="2" stroke-linecap="round" stroke-linejoin="round">
<path d="M20.59 13.41l-7.17 7.17a2 2 0 0 1-2.83 0L2 12V2h10l8.59 8.59a2 2 0 0 1 0 2.82z"/><line x1="7" y1="7" x2="7.01" y2="7"/></g>
<!-- flag -->
<defs><clipPath id="fc"><circle cx="277.8" cy="82.8" r="5.9"/></clipPath></defs>
<g clip-path="url(#fc)" opacity="0.9">
<rect x="271" y="76" width="14" height="14" fill="#fae9ec"/>
<g fill="#e4506a" shape-rendering="crispEdges"><rect x="271" y="77" width="14" height="1"/><rect x="271" y="79" width="14" height="1"/><rect x="271" y="81" width="14" height="1"/><rect x="271" y="83" width="14" height="1"/><rect x="271" y="85" width="14" height="1"/><rect x="271" y="87" width="14" height="1"/></g>
<rect x="271" y="76" width="6.4" height="6" fill="#3b4c9c"/>
</g>
<!-- star -->
<g transform="translate(390.36 77.9) scale(0.47)"><polygon points="12 2 15.09 8.26 22 9.27 17 14.14 18.18 21.02 12 17.77 5.82 21.02 7 14.14 2 9.27 8.91 8.26 12 2" fill="#9c9eac" stroke="#9c9eac" stroke-width="1.4" stroke-linejoin="round"/></g>
<!-- arrow up right -->
<path d="M509.6 87.2L518 79.4M512.2 79.4H518V85.2" stroke="#90949c" stroke-width="1.2" stroke-linecap="round" stroke-linejoin="round"/>
<!-- swap -->
<path d="M627.3 80.2H637.3M634.8 77.7L637.3 80.2L634.8 82.7M637.3 86.4H627.3M629.8 83.9L627.3 86.4L629.8 88.9" stroke="#90949c" stroke-width="1.2" stroke-linecap="round" stroke-linejoin="round"/>
<!-- arrow down left -->
<path d="M754.4 79L746.6 86.9M746.6 81.3V86.9H752.2" stroke="#90949c" stroke-width="1.2" stroke-linecap="round" stroke-linejoin="round"/>

</svg>
<div id="txt">
<span class="t" id="t_sales" style="left:54.20px;top:31.39px;font-size:11px;font-weight:400;color:#2b2d33;letter-spacing:-0.188px;">Sales</span>
<span class="t" id="t_date" style="left:390.90px;top:31.39px;font-size:11px;font-weight:400;color:#2b2d33;letter-spacing:-0.036px;">May 9, 2023 - May 12, 2023</span>
<span class="t" id="t_reset" style="left:731.05px;top:31.01px;font-size:10.5px;font-weight:400;color:#6c717c;letter-spacing:-0.263px;-webkit-text-stroke:0.4px #6c717c;">Reset</span>
<span class="t" id="t_apply" style="left:798.55px;top:31.01px;font-size:10.5px;font-weight:400;color:#ffffff;letter-spacing:-0.363px;-webkit-text-stroke:0.4px #ffffff;">Apply</span>
<span class="t" id="p1" style="left:54.85px;top:78.39px;font-size:11px;font-weight:400;color:#adb1ba;letter-spacing:-0.131px;">Type name</span>
<span class="t" id="p2" style="left:171.80px;top:78.39px;font-size:11px;font-weight:400;color:#adb1ba;letter-spacing:0.050px;">Date</span>
<span class="t" id="p3" style="left:290.40px;top:78.39px;font-size:11px;font-weight:400;color:#adb1ba;letter-spacing:0.042px;">Select country</span>
<span class="t" id="p4" style="left:408.30px;top:78.39px;font-size:11px;font-weight:400;color:#adb1ba;letter-spacing:0.000px;">Ratings</span>
<span class="t" id="p5" style="left:526.70px;top:78.39px;font-size:11px;font-weight:400;color:#adb1ba;letter-spacing:0.046px;">External num..</span>
<span class="t" id="p6" style="left:644.90px;top:78.39px;font-size:11px;font-weight:400;color:#adb1ba;letter-spacing:0.144px;">Direction</span>
<span class="t" id="p7" style="left:763.00px;top:78.39px;font-size:11px;font-weight:400;color:#adb1ba;letter-spacing:0.096px;">Internal num...</span>
<span class="t" id="k1" style="left:33.35px;top:144.85px;font-size:14px;font-weight:700;color:#2b2d33;letter-spacing:0.190px;">Total calls</span>
<span class="t" id="k2" style="left:319.25px;top:144.85px;font-size:14px;font-weight:700;color:#2b2d33;letter-spacing:0.158px;">Total answered calls</span>
<span class="t" id="k3" style="left:603.25px;top:144.85px;font-size:14px;font-weight:700;color:#2b2d33;letter-spacing:0.192px;">Avg. total talk time</span>
<span class="t" id="n1" style="left:130.00px;top:234.74px;font-size:27px;font-weight:400;color:#25272c;letter-spacing:0.775px;-webkit-text-stroke:0.8px #25272c;">575</span>
<span class="t" id="n2" style="left:419.20px;top:234.74px;font-size:27px;font-weight:400;color:#25272c;letter-spacing:0.900px;-webkit-text-stroke:0.8px #25272c;">72</span>
<span class="t" id="n3" style="left:687.15px;top:234.74px;font-size:27px;font-weight:400;color:#25272c;letter-spacing:0.725px;-webkit-text-stroke:0.8px #25272c;">01:35</span>
<span class="t" id="m1" style="left:34.70px;top:327.25px;font-size:14px;font-weight:400;color:#a2a7b3;letter-spacing:0.200px;-webkit-text-stroke:0.25px #a2a7b3;">More</span>
<span class="t" id="m2" style="left:320.70px;top:327.25px;font-size:14px;font-weight:400;color:#a2a7b3;letter-spacing:0.200px;-webkit-text-stroke:0.25px #a2a7b3;">More</span>
<span class="t" id="m3" style="left:605.00px;top:327.25px;font-size:14px;font-weight:400;color:#a2a7b3;letter-spacing:0.200px;-webkit-text-stroke:0.25px #a2a7b3;">More</span>
<span class="t" id="l1" style="left:48.10px;top:399.30px;font-size:13px;font-weight:400;color:#7b8190;letter-spacing:0.069px;-webkit-text-stroke:0.2px #7b8190;">Current period</span>
<span class="t" id="l2" style="left:165.70px;top:399.30px;font-size:13px;font-weight:400;color:#7b8190;letter-spacing:0.111px;-webkit-text-stroke:0.2px #7b8190;">Previous period</span>
<span class="t" id="g1" style="left:620.05px;top:399.30px;font-size:13px;font-weight:400;color:#6d7380;letter-spacing:-0.033px;-webkit-text-stroke:0.35px #6d7380;">Hour</span>
<span class="t" id="g2" style="left:677.85px;top:399.30px;font-size:13px;font-weight:400;color:#ffffff;letter-spacing:-0.700px;-webkit-text-stroke:0.45px #ffffff;">Day</span>
<span class="t" id="g3" style="left:730.85px;top:399.30px;font-size:13px;font-weight:400;color:#6d7380;letter-spacing:-0.700px;-webkit-text-stroke:0.35px #6d7380;">Week</span>
<span class="t" id="g4" style="left:792.05px;top:399.30px;font-size:13px;font-weight:400;color:#6d7380;letter-spacing:0.463px;-webkit-text-stroke:0.35px #6d7380;">Month</span>
<span class="t" id="y100" style="left:31.95px;top:442.97px;font-size:11.5px;font-weight:400;color:#9ca0aa;letter-spacing:0.500px;">100</span>
<span class="t" id="y80" style="left:32.20px;top:476.97px;font-size:11.5px;font-weight:400;color:#9ca0aa;letter-spacing:0.650px;">80</span>
<span class="t" id="y60" style="left:32.20px;top:510.87px;font-size:11.5px;font-weight:400;color:#9ca0aa;letter-spacing:0.650px;">60</span>
<span class="t" id="y40" style="left:32.45px;top:544.77px;font-size:11.5px;font-weight:400;color:#9ca0aa;letter-spacing:0.400px;">40</span>
<span class="t" id="y20" style="left:32.20px;top:578.77px;font-size:11.5px;font-weight:400;color:#9ca0aa;letter-spacing:0.650px;">20</span>
<span class="t" id="y0" style="left:32.20px;top:612.67px;font-size:11.5px;font-weight:400;color:#9ca0aa;letter-spacing:0.300px;">0</span>
<span class="t" id="x0" style="left:67.60px;top:642.44px;font-size:12px;font-weight:400;color:#a3a7b3;letter-spacing:0.015px;">Nov 6, 2023</span>
<span class="t" id="x1" style="left:165.00px;top:642.44px;font-size:12px;font-weight:400;color:#a3a7b3;letter-spacing:0.015px;">Nov 7, 2023</span>
<span class="t" id="x2" style="left:262.30px;top:642.44px;font-size:12px;font-weight:400;color:#a3a7b3;letter-spacing:0.015px;">Nov 8, 2023</span>
<span class="t" id="x3" style="left:359.80px;top:642.44px;font-size:12px;font-weight:400;color:#a3a7b3;letter-spacing:0.015px;">Nov 9, 2023</span>
<span class="t" id="x4" style="left:457.30px;top:642.44px;font-size:12px;font-weight:400;color:#a3a7b3;letter-spacing:-0.009px;">Nov 10, 2023</span>
<span class="t" id="x5" style="left:560.80px;top:642.44px;font-size:12px;font-weight:400;color:#a3a7b3;letter-spacing:0.082px;">Nov 11, 2023</span>
<span class="t" id="x6" style="left:664.30px;top:642.44px;font-size:12px;font-weight:400;color:#a3a7b3;letter-spacing:-0.009px;">Nov 12, 2023</span>
<span class="t" id="x7" style="left:767.80px;top:642.44px;font-size:12px;font-weight:400;color:#a3a7b3;letter-spacing:-0.009px;">Nov 13, 2023</span>
</div>
</body></html>
